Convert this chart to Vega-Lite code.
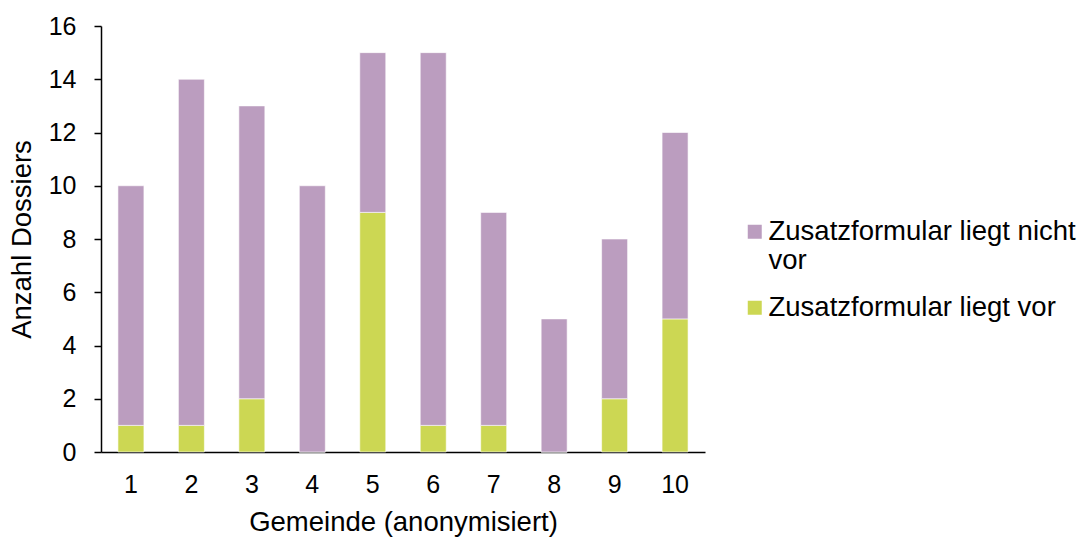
{
  "$schema": "https://vega.github.io/schema/vega-lite/v6.json",
  "width": 604,
  "height": 426,
  "autosize": {"type": "none"},
  "padding": {"left": 101, "top": 26, "right": 386, "bottom": 87},
  "config": {
    "view": {"stroke": null},
    "font": "Liberation Sans",
    "axis": {"labelFont": "Liberation Sans", "titleFont": "Liberation Sans", "labelColor": "#000", "titleColor": "#000", "labelFontSize": 25, "titleFontSize": 27.5, "titleFontWeight": "normal", "domainColor": "#000", "domainWidth": 1.5, "tickColor": "#000", "tickWidth": 1.5, "grid": false}
  },
  "data": {"values": [
    {"g": "1", "s": "Zusatzformular liegt vor", "n": 1},
    {"g": "1", "s": "Zusatzformular liegt nicht vor", "n": 9},
    {"g": "2", "s": "Zusatzformular liegt vor", "n": 1},
    {"g": "2", "s": "Zusatzformular liegt nicht vor", "n": 13},
    {"g": "3", "s": "Zusatzformular liegt vor", "n": 2},
    {"g": "3", "s": "Zusatzformular liegt nicht vor", "n": 11},
    {"g": "4", "s": "Zusatzformular liegt vor", "n": 0},
    {"g": "4", "s": "Zusatzformular liegt nicht vor", "n": 10},
    {"g": "5", "s": "Zusatzformular liegt vor", "n": 9},
    {"g": "5", "s": "Zusatzformular liegt nicht vor", "n": 6},
    {"g": "6", "s": "Zusatzformular liegt vor", "n": 1},
    {"g": "6", "s": "Zusatzformular liegt nicht vor", "n": 14},
    {"g": "7", "s": "Zusatzformular liegt vor", "n": 1},
    {"g": "7", "s": "Zusatzformular liegt nicht vor", "n": 8},
    {"g": "8", "s": "Zusatzformular liegt vor", "n": 0},
    {"g": "8", "s": "Zusatzformular liegt nicht vor", "n": 5},
    {"g": "9", "s": "Zusatzformular liegt vor", "n": 2},
    {"g": "9", "s": "Zusatzformular liegt nicht vor", "n": 6},
    {"g": "10", "s": "Zusatzformular liegt vor", "n": 5},
    {"g": "10", "s": "Zusatzformular liegt nicht vor", "n": 7}
  ]},
  "mark": {"type": "bar", "stroke": "#ffffff", "strokeWidth": 0.6},
  "encoding": {
    "x": {"field": "g", "type": "ordinal", "sort": ["1","2","3","4","5","6","7","8","9","10"],
      "scale": {"paddingInner": 0.57, "paddingOuter": 0.28},
      "axis": {"title": "Gemeinde (anonymisiert)", "labelAngle": 0, "ticks": false, "labelPadding": 20, "titlePadding": 11}},
    "y": {"field": "n", "type": "quantitative", "stack": "zero",
      "scale": {"domain": [0, 16], "nice": false},
      "axis": {"title": "Anzahl Dossiers", "values": [0,2,4,6,8,10,12,14,16], "tickSize": 7, "labelPadding": 18, "titleX": -79, "titleY": 213, "titleAngle": -90, "titleAnchor": "middle", "titleBaseline": "middle"}},
    "color": {"field": "s", "type": "nominal",
      "scale": {"domain": ["Zusatzformular liegt nicht vor", "Zusatzformular liegt vor"], "range": ["#BB9DBF", "#CCD753"]},
      "legend": {"title": null, "orient": "none", "legendX": 640, "legendY": 192, "symbolType": "square", "symbolSize": 196, "symbolStrokeWidth": 0, "labelFontSize": 27.5, "labelFont": "Liberation Sans", "labelColor": "#000", "labelOffset": 0, "labelLimit": 500, "rowPadding": 18,
        "labelExpr": "datum.label == 'Zusatzformular liegt nicht vor' ? ['Zusatzformular liegt nicht', 'vor'] : datum.label"}},
    "order": {"field": "s", "sort": "descending"}
  }
}
